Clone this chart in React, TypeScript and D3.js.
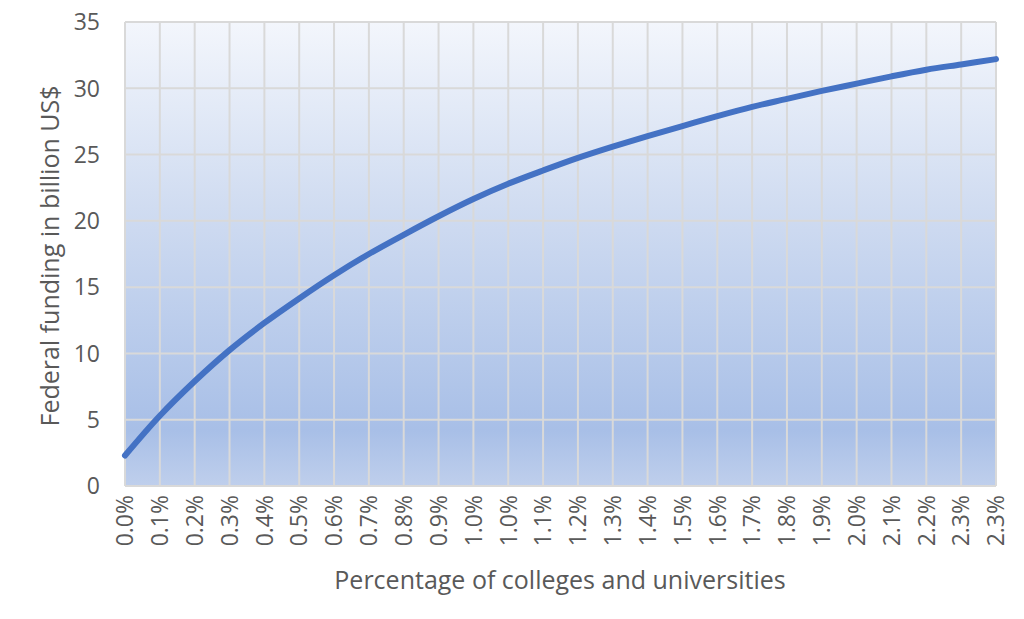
import React from "react";
import * as d3 from "d3";

const xLabels = [
  "0.0%", "0.1%", "0.2%", "0.3%", "0.4%", "0.5%", "0.6%", "0.7%", "0.8%", "0.9%",
  "1.0%", "1.0%", "1.1%", "1.2%", "1.3%", "1.4%", "1.5%", "1.6%", "1.7%", "1.8%",
  "1.9%", "2.0%", "2.1%", "2.2%", "2.3%", "2.3%",
];
const funding = [
  2.3, 5.3, 7.9, 10.25, 12.3, 14.15, 15.9, 17.5, 18.95, 20.35,
  21.65, 22.8, 23.8, 24.75, 25.6, 26.4, 27.15, 27.9, 28.6, 29.2,
  29.8, 30.35, 30.9, 31.4, 31.8, 32.2,
];
const yTicks = [0, 5, 10, 15, 20, 25, 30, 35];

const W = 1024;
const H = 619;
const L = 125;
const R = 996;
const T = 22;
const B = 486;
const FONT = "'Open Sans', 'Liberation Sans', sans-serif";
const TEXT = "#595959";

export default function App() {
  const idx = xLabels.map((_, i) => i);
  const x = d3.scalePoint<number>().domain(idx).range([L, R]);
  const y = d3.scaleLinear().domain([0, 35]).range([B, T]);
  const line = d3
    .line<number>()
    .x((_, i) => x(i) as number)
    .y((d) => y(d))
    .curve(d3.curveCatmullRom.alpha(0.5));

  return (
    <div style={{ position: "absolute", left: 0, top: 0 }}>
      <svg width={W} height={H} style={{ display: "block", background: "#fff" }}>
        <defs>
          <linearGradient id="bg" x1="0" y1="0" x2="0" y2="1">
            <stop offset="0%" stopColor="#f3f6fc" />
            <stop offset="40%" stopColor="#d0dcf1" />
            <stop offset="88%" stopColor="#a8bfe7" />
            <stop offset="100%" stopColor="#bfcfec" />
          </linearGradient>
        </defs>
        <rect x={L} y={T} width={R - L} height={B - T} fill="url(#bg)" />
        {yTicks.map((t) => (
          <line key={"h" + t} x1={L} x2={R} y1={y(t)} y2={y(t)} stroke="#d9d9d9" strokeWidth={2} />
        ))}
        {idx.map((i) => (
          <line key={"v" + i} x1={x(i)} x2={x(i)} y1={T} y2={B} stroke="#d9d9d9" strokeWidth={2} />
        ))}
        <path d={line(funding) || ""} fill="none" stroke="#4472c4" strokeWidth={6} strokeLinecap="round" strokeLinejoin="round" />
        {yTicks.map((t) => (
          <text key={"yt" + t} x={100} y={y(t)} dy="0.36em" textAnchor="end" fontFamily={FONT} fontSize={23} fill={TEXT}>
            {t}
          </text>
        ))}
        {idx.map((i) => (
          <text
            key={"xt" + i}
            transform={`translate(${x(i)},${B + 9}) rotate(-90)`}
            dy="0.36em"
            textAnchor="end"
            fontFamily={FONT}
            fontSize={23}
            fill={TEXT}
          >
            {xLabels[i]}
          </text>
        ))}
        <text x={560} y={589} textAnchor="middle" fontFamily={FONT} fontSize={25} fill={TEXT}>
          Percentage of colleges and universities
        </text>
        <text
          transform={`translate(50,${(T + B) / 2 + 2}) rotate(-90)`}
          dy="0.36em"
          textAnchor="middle"
          fontFamily={FONT}
          fontSize={25}
          fill={TEXT}
        >
          Federal funding in billion US$
        </text>
      </svg>
    </div>
  );
}
